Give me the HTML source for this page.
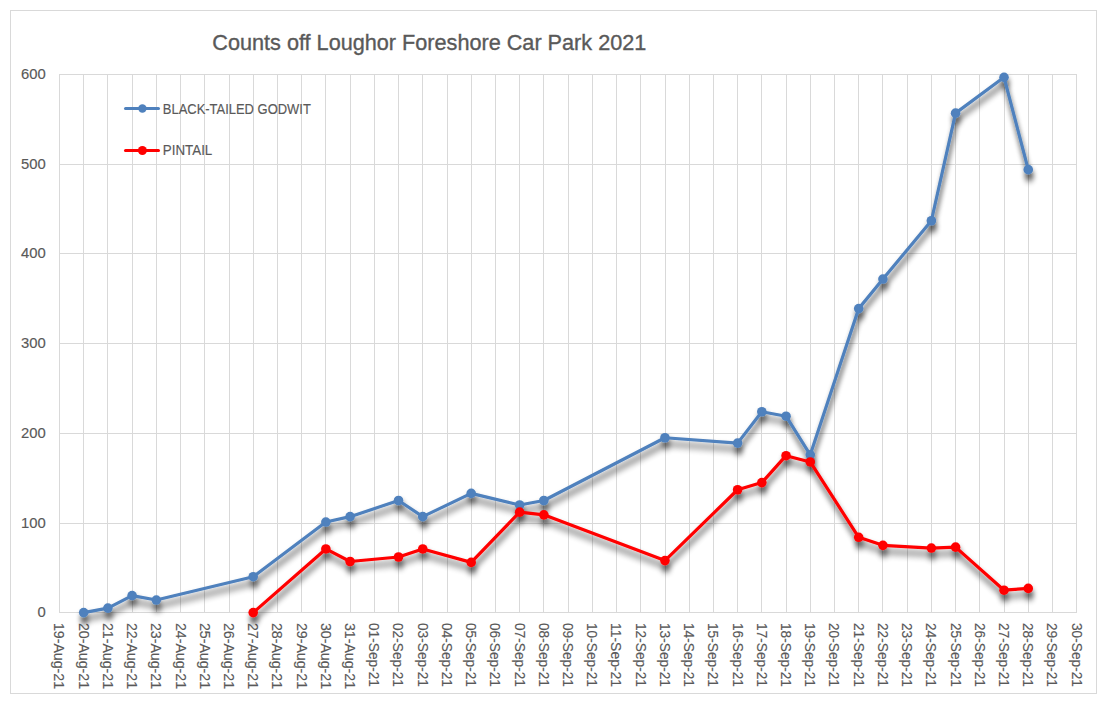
<!DOCTYPE html><html><head><meta charset="utf-8"><style>html,body{margin:0;padding:0;background:#fff;}svg{display:block;}text{font-family:"Liberation Sans",sans-serif;fill:#595959;stroke:#595959;stroke-width:0.15px;}</style></head><body><svg width="1107" height="703" viewBox="0 0 1107 703"><defs><filter id="sh" x="-20%" y="-20%" width="140%" height="140%"><feGaussianBlur in="SourceAlpha" stdDeviation="2.4 3.6"/><feOffset dx="0.8" dy="5.5" result="b"/><feComponentTransfer><feFuncA type="linear" slope="0.72"/></feComponentTransfer><feMerge><feMergeNode/><feMergeNode in="SourceGraphic"/></feMerge></filter></defs><rect x="0" y="0" width="1107" height="703" fill="#fff"/><rect x="10.5" y="10.5" width="1086" height="683" fill="none" stroke="#d9d9d9" stroke-width="1"/><path d="M59.5 74.5V612.5M83.5 74.5V612.5M107.5 74.5V612.5M132.5 74.5V612.5M156.5 74.5V612.5M180.5 74.5V612.5M204.5 74.5V612.5M229.5 74.5V612.5M253.5 74.5V612.5M277.5 74.5V612.5M301.5 74.5V612.5M325.5 74.5V612.5M350.5 74.5V612.5M374.5 74.5V612.5M398.5 74.5V612.5M422.5 74.5V612.5M447.5 74.5V612.5M471.5 74.5V612.5M495.5 74.5V612.5M519.5 74.5V612.5M543.5 74.5V612.5M568.5 74.5V612.5M592.5 74.5V612.5M616.5 74.5V612.5M640.5 74.5V612.5M665.5 74.5V612.5M689.5 74.5V612.5M713.5 74.5V612.5M737.5 74.5V612.5M761.5 74.5V612.5M786.5 74.5V612.5M810.5 74.5V612.5M834.5 74.5V612.5M858.5 74.5V612.5M882.5 74.5V612.5M907.5 74.5V612.5M931.5 74.5V612.5M955.5 74.5V612.5M979.5 74.5V612.5M1004.5 74.5V612.5M1028.5 74.5V612.5M1052.5 74.5V612.5M1076.5 74.5V612.5M59.5 612.5H1076.5M59.5 523.5H1076.5M59.5 433.5H1076.5M59.5 343.5H1076.5M59.5 253.5H1076.5M59.5 164.5H1076.5M59.5 74.5H1076.5" stroke="#d9d9d9" stroke-width="1" stroke-linecap="square" fill="none"/><text x="212.3" y="50" font-size="22" style="stroke-width:0.35px" textLength="434" lengthAdjust="spacingAndGlyphs">Counts off Loughor Foreshore Car Park 2021</text><text x="45.7" y="616.9" font-size="14.8" text-anchor="end">0</text><text x="45.7" y="527.9" font-size="14.8" text-anchor="end">100</text><text x="45.7" y="437.9" font-size="14.8" text-anchor="end">200</text><text x="45.7" y="347.9" font-size="14.8" text-anchor="end">300</text><text x="45.7" y="257.9" font-size="14.8" text-anchor="end">400</text><text x="45.7" y="168.9" font-size="14.8" text-anchor="end">500</text><text x="45.7" y="78.9" font-size="14.8" text-anchor="end">600</text><text transform="translate(54.4,623) rotate(90)" font-size="14" textLength="66" lengthAdjust="spacingAndGlyphs">19-Aug-21</text><text transform="translate(78.6,623) rotate(90)" font-size="14" textLength="66" lengthAdjust="spacingAndGlyphs">20-Aug-21</text><text transform="translate(102.8,623) rotate(90)" font-size="14" textLength="66" lengthAdjust="spacingAndGlyphs">21-Aug-21</text><text transform="translate(127.0,623) rotate(90)" font-size="14" textLength="66" lengthAdjust="spacingAndGlyphs">22-Aug-21</text><text transform="translate(151.2,623) rotate(90)" font-size="14" textLength="66" lengthAdjust="spacingAndGlyphs">23-Aug-21</text><text transform="translate(175.5,623) rotate(90)" font-size="14" textLength="66" lengthAdjust="spacingAndGlyphs">24-Aug-21</text><text transform="translate(199.7,623) rotate(90)" font-size="14" textLength="66" lengthAdjust="spacingAndGlyphs">25-Aug-21</text><text transform="translate(223.9,623) rotate(90)" font-size="14" textLength="66" lengthAdjust="spacingAndGlyphs">26-Aug-21</text><text transform="translate(248.1,623) rotate(90)" font-size="14" textLength="66" lengthAdjust="spacingAndGlyphs">27-Aug-21</text><text transform="translate(272.3,623) rotate(90)" font-size="14" textLength="66" lengthAdjust="spacingAndGlyphs">28-Aug-21</text><text transform="translate(296.5,623) rotate(90)" font-size="14" textLength="66" lengthAdjust="spacingAndGlyphs">29-Aug-21</text><text transform="translate(320.8,623) rotate(90)" font-size="14" textLength="66" lengthAdjust="spacingAndGlyphs">30-Aug-21</text><text transform="translate(345.0,623) rotate(90)" font-size="14" textLength="66" lengthAdjust="spacingAndGlyphs">31-Aug-21</text><text transform="translate(369.2,623) rotate(90)" font-size="14" textLength="64" lengthAdjust="spacingAndGlyphs">01-Sep-21</text><text transform="translate(393.4,623) rotate(90)" font-size="14" textLength="64" lengthAdjust="spacingAndGlyphs">02-Sep-21</text><text transform="translate(417.6,623) rotate(90)" font-size="14" textLength="64" lengthAdjust="spacingAndGlyphs">03-Sep-21</text><text transform="translate(441.9,623) rotate(90)" font-size="14" textLength="64" lengthAdjust="spacingAndGlyphs">04-Sep-21</text><text transform="translate(466.1,623) rotate(90)" font-size="14" textLength="64" lengthAdjust="spacingAndGlyphs">05-Sep-21</text><text transform="translate(490.3,623) rotate(90)" font-size="14" textLength="64" lengthAdjust="spacingAndGlyphs">06-Sep-21</text><text transform="translate(514.5,623) rotate(90)" font-size="14" textLength="64" lengthAdjust="spacingAndGlyphs">07-Sep-21</text><text transform="translate(538.8,623) rotate(90)" font-size="14" textLength="64" lengthAdjust="spacingAndGlyphs">08-Sep-21</text><text transform="translate(563.0,623) rotate(90)" font-size="14" textLength="64" lengthAdjust="spacingAndGlyphs">09-Sep-21</text><text transform="translate(587.2,623) rotate(90)" font-size="14" textLength="64" lengthAdjust="spacingAndGlyphs">10-Sep-21</text><text transform="translate(611.4,623) rotate(90)" font-size="14" textLength="64" lengthAdjust="spacingAndGlyphs">11-Sep-21</text><text transform="translate(635.6,623) rotate(90)" font-size="14" textLength="64" lengthAdjust="spacingAndGlyphs">12-Sep-21</text><text transform="translate(659.9,623) rotate(90)" font-size="14" textLength="64" lengthAdjust="spacingAndGlyphs">13-Sep-21</text><text transform="translate(684.1,623) rotate(90)" font-size="14" textLength="64" lengthAdjust="spacingAndGlyphs">14-Sep-21</text><text transform="translate(708.3,623) rotate(90)" font-size="14" textLength="64" lengthAdjust="spacingAndGlyphs">15-Sep-21</text><text transform="translate(732.5,623) rotate(90)" font-size="14" textLength="64" lengthAdjust="spacingAndGlyphs">16-Sep-21</text><text transform="translate(756.7,623) rotate(90)" font-size="14" textLength="64" lengthAdjust="spacingAndGlyphs">17-Sep-21</text><text transform="translate(780.9,623) rotate(90)" font-size="14" textLength="64" lengthAdjust="spacingAndGlyphs">18-Sep-21</text><text transform="translate(805.2,623) rotate(90)" font-size="14" textLength="64" lengthAdjust="spacingAndGlyphs">19-Sep-21</text><text transform="translate(829.4,623) rotate(90)" font-size="14" textLength="64" lengthAdjust="spacingAndGlyphs">20-Sep-21</text><text transform="translate(853.6,623) rotate(90)" font-size="14" textLength="64" lengthAdjust="spacingAndGlyphs">21-Sep-21</text><text transform="translate(877.8,623) rotate(90)" font-size="14" textLength="64" lengthAdjust="spacingAndGlyphs">22-Sep-21</text><text transform="translate(902.0,623) rotate(90)" font-size="14" textLength="64" lengthAdjust="spacingAndGlyphs">23-Sep-21</text><text transform="translate(926.3,623) rotate(90)" font-size="14" textLength="64" lengthAdjust="spacingAndGlyphs">24-Sep-21</text><text transform="translate(950.5,623) rotate(90)" font-size="14" textLength="64" lengthAdjust="spacingAndGlyphs">25-Sep-21</text><text transform="translate(974.7,623) rotate(90)" font-size="14" textLength="64" lengthAdjust="spacingAndGlyphs">26-Sep-21</text><text transform="translate(998.9,623) rotate(90)" font-size="14" textLength="64" lengthAdjust="spacingAndGlyphs">27-Sep-21</text><text transform="translate(1023.1,623) rotate(90)" font-size="14" textLength="64" lengthAdjust="spacingAndGlyphs">28-Sep-21</text><text transform="translate(1047.4,623) rotate(90)" font-size="14" textLength="64" lengthAdjust="spacingAndGlyphs">29-Sep-21</text><text transform="translate(1071.6,623) rotate(90)" font-size="14" textLength="64" lengthAdjust="spacingAndGlyphs">30-Sep-21</text><g filter="url(#sh)"><polyline points="83.67,612.60 107.89,608.12 132.11,595.56 156.33,600.05 253.21,576.73 325.87,522.03 350.09,516.65 398.53,500.51 422.75,516.65 471.19,493.34 519.63,505.00 543.85,500.51 664.95,437.74 737.61,443.12 761.83,411.74 786.05,416.22 810.27,454.78 858.71,308.62 882.93,279.03 931.37,220.74 955.59,113.14 1004.03,77.27 1028.25,169.63" fill="none" stroke="#4f81bd" stroke-width="3.2" stroke-linejoin="round" stroke-linecap="round"/><circle cx="83.67" cy="612.60" r="4.8" fill="#4f81bd"/><circle cx="107.89" cy="608.12" r="4.8" fill="#4f81bd"/><circle cx="132.11" cy="595.56" r="4.8" fill="#4f81bd"/><circle cx="156.33" cy="600.05" r="4.8" fill="#4f81bd"/><circle cx="253.21" cy="576.73" r="4.8" fill="#4f81bd"/><circle cx="325.87" cy="522.03" r="4.8" fill="#4f81bd"/><circle cx="350.09" cy="516.65" r="4.8" fill="#4f81bd"/><circle cx="398.53" cy="500.51" r="4.8" fill="#4f81bd"/><circle cx="422.75" cy="516.65" r="4.8" fill="#4f81bd"/><circle cx="471.19" cy="493.34" r="4.8" fill="#4f81bd"/><circle cx="519.63" cy="505.00" r="4.8" fill="#4f81bd"/><circle cx="543.85" cy="500.51" r="4.8" fill="#4f81bd"/><circle cx="664.95" cy="437.74" r="4.8" fill="#4f81bd"/><circle cx="737.61" cy="443.12" r="4.8" fill="#4f81bd"/><circle cx="761.83" cy="411.74" r="4.8" fill="#4f81bd"/><circle cx="786.05" cy="416.22" r="4.8" fill="#4f81bd"/><circle cx="810.27" cy="454.78" r="4.8" fill="#4f81bd"/><circle cx="858.71" cy="308.62" r="4.8" fill="#4f81bd"/><circle cx="882.93" cy="279.03" r="4.8" fill="#4f81bd"/><circle cx="931.37" cy="220.74" r="4.8" fill="#4f81bd"/><circle cx="955.59" cy="113.14" r="4.8" fill="#4f81bd"/><circle cx="1004.03" cy="77.27" r="4.8" fill="#4f81bd"/><circle cx="1028.25" cy="169.63" r="4.8" fill="#4f81bd"/></g><g filter="url(#sh)"><polyline points="253.21,612.60 325.87,548.93 350.09,561.49 398.53,557.00 422.75,548.93 471.19,562.38 519.63,512.17 543.85,514.86 664.95,560.59 737.61,489.75 761.83,482.58 786.05,455.68 810.27,461.95 858.71,537.28 882.93,545.35 931.37,548.04 955.59,547.14 1004.03,590.18 1028.25,588.39" fill="none" stroke="#ff0000" stroke-width="3.2" stroke-linejoin="round" stroke-linecap="round"/><circle cx="253.21" cy="612.60" r="4.8" fill="#ff0000"/><circle cx="325.87" cy="548.93" r="4.8" fill="#ff0000"/><circle cx="350.09" cy="561.49" r="4.8" fill="#ff0000"/><circle cx="398.53" cy="557.00" r="4.8" fill="#ff0000"/><circle cx="422.75" cy="548.93" r="4.8" fill="#ff0000"/><circle cx="471.19" cy="562.38" r="4.8" fill="#ff0000"/><circle cx="519.63" cy="512.17" r="4.8" fill="#ff0000"/><circle cx="543.85" cy="514.86" r="4.8" fill="#ff0000"/><circle cx="664.95" cy="560.59" r="4.8" fill="#ff0000"/><circle cx="737.61" cy="489.75" r="4.8" fill="#ff0000"/><circle cx="761.83" cy="482.58" r="4.8" fill="#ff0000"/><circle cx="786.05" cy="455.68" r="4.8" fill="#ff0000"/><circle cx="810.27" cy="461.95" r="4.8" fill="#ff0000"/><circle cx="858.71" cy="537.28" r="4.8" fill="#ff0000"/><circle cx="882.93" cy="545.35" r="4.8" fill="#ff0000"/><circle cx="931.37" cy="548.04" r="4.8" fill="#ff0000"/><circle cx="955.59" cy="547.14" r="4.8" fill="#ff0000"/><circle cx="1004.03" cy="590.18" r="4.8" fill="#ff0000"/><circle cx="1028.25" cy="588.39" r="4.8" fill="#ff0000"/></g><path d="M125.5 108.5H158.5" stroke="#4f81bd" stroke-width="3" stroke-linecap="round"/><circle cx="142.4" cy="108.5" r="4.2" fill="#4f81bd"/><path d="M125.5 150.5H158.5" stroke="#ff0000" stroke-width="3" stroke-linecap="round"/><circle cx="142.4" cy="150.5" r="4.5" fill="#ff0000"/><text x="162.8" y="114.3" font-size="14" textLength="148" lengthAdjust="spacingAndGlyphs">BLACK-TAILED GODWIT</text><text x="162.8" y="155.3" font-size="14" textLength="49.5" lengthAdjust="spacingAndGlyphs">PINTAIL</text></svg></body></html>
